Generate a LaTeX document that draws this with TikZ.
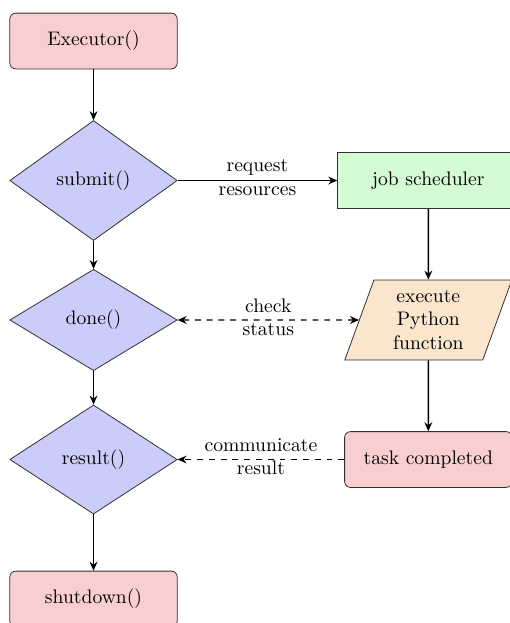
\documentclass[tikz,border=0pt]{standalone}
\usepackage{tikz}
\usetikzlibrary{arrows.meta,shapes.geometric}
\definecolor{rosa}{HTML}{F8CECE}
\definecolor{lila}{HTML}{CCCCFA}
\definecolor{verdecla}{HTML}{D4FBD4}
\definecolor{naranjacla}{HTML}{FAE5CD}
\definecolor{borde}{HTML}{303030}
\tikzset{
  caja/.style        = {draw=borde, minimum width=3cm, minimum height=1cm,
                        align=center, line width=0.4pt},
  terminal/.style    = {caja, rounded corners=3pt, fill=rosa},
  decision/.style    = {caja, diamond, aspect=1, fill=lila},
  proceso/.style     = {caja, fill=verdecla, minimum width=3.25cm},
  entrada/.style     = {caja, trapezium, trapezium left angle=70,
                        trapezium right angle=110, inner ysep=0.5pt,
                        fill=naranjacla},
  flecha/.style      = {-{Stealth[length=1.6mm,width=1.4mm]}, line width=0.7pt},
  discontinua/.style = {flecha, dashed},
  rot/.style         = {midway, align=center, yshift=1.5pt},
}
\begin{document}
\begin{tikzpicture}
\useasboundingbox (-1.676,0.735) rectangle (7.446,-10.430);

% =============================================================================
% Columna izquierda: llamadas del ejecutor
% =============================================================================
\node[terminal] (ejec) at (0,0) {Executor()};
\node[decision] (submit) at (0,-2.5) {submit()};
\node[decision] (done) at (0,-5) {done()};
\node[decision] (result) at (0,-7.5) {result()};
\node[terminal] (shutdown) at (0,-10) {shutdown()};

% =============================================================================
% Columna derecha: lo que pasa en el cluster
% =============================================================================
\node[proceso] (sched) at (6,-2.5) {job scheduler};
\node[entrada] (func) at (6,-5) {execute\\Python\\function};
\node[terminal] (tarea) at (6,-7.5) {task completed};

\draw[flecha] (ejec) -- (submit);
\draw[flecha] (submit) -- (done);
\draw[flecha] (done) -- (result);
\draw[flecha] (result) -- (shutdown);

\draw[flecha] (sched) -- (func);
\draw[flecha] (func) -- (tarea);

\draw[flecha] (submit.east) -- node[rot] {request\\resources} (sched.west);
\draw[discontinua, {Stealth[length=1.6mm,width=1.4mm]}-{Stealth[length=1.6mm,width=1.4mm]}]
  (done.east) -- node[rot] {check\\status} (func.west);
\draw[discontinua] (tarea.west) -- node[rot] {communicate\\result} (result.east);

\end{tikzpicture}
\end{document}
